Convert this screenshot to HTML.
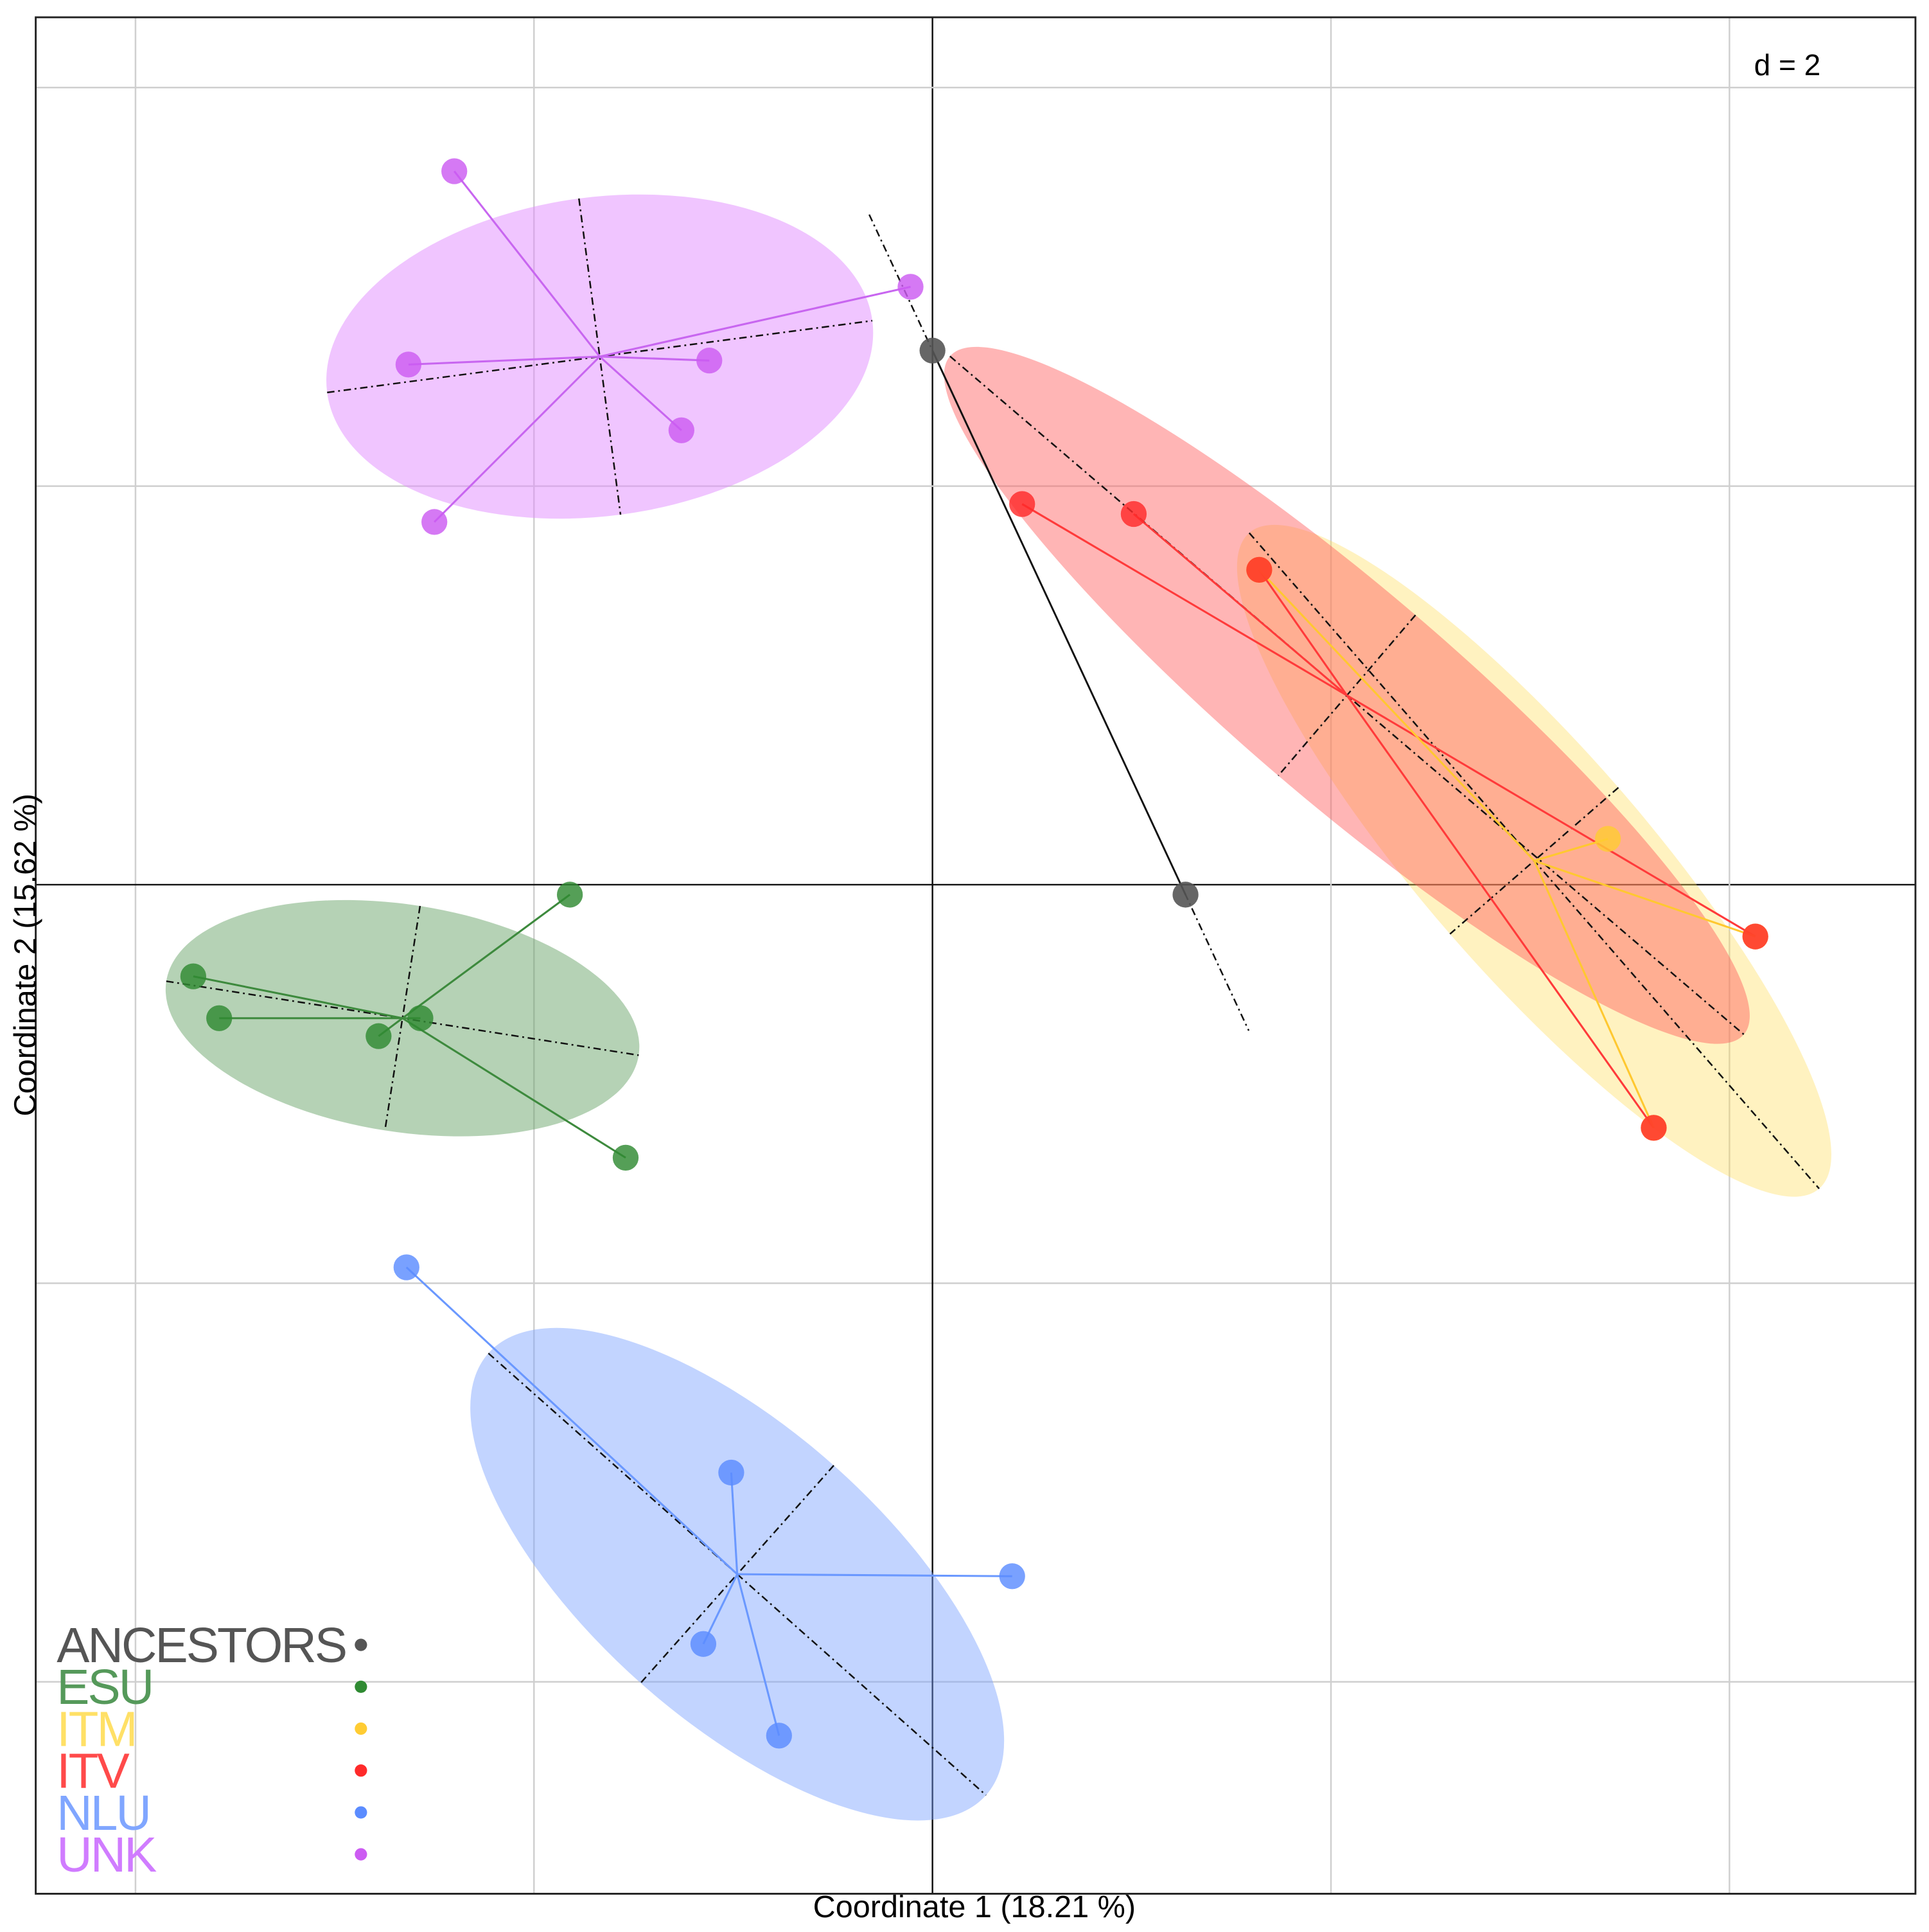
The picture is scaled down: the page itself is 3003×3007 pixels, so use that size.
<!DOCTYPE html>
<html><head><meta charset="utf-8"><title>PCoA plot</title>
<style>html,body{margin:0;padding:0;background:#fff;}svg{display:block;}</style></head>
<body>
<svg id="chart" width="3003" height="3007" viewBox="0 0 1566 1568" xmlns="http://www.w3.org/2000/svg" font-family="Liberation Sans, sans-serif">
<rect x="0" y="0" width="1566" height="1568" fill="#fff"/>
<g id="grid"></g>
<g id="ellipses"></g>
<g id="spokes"></g>
<g id="points"></g>
<rect x="29" y="14" width="1526" height="1523" fill="none" stroke="#222" stroke-width="1.5"/>
<text x="1478" y="61" font-size="24" text-anchor="end" fill="#000">d = 2</text>
<text x="791" y="1556" font-size="25" text-anchor="middle" fill="#000" textLength="262" lengthAdjust="spacingAndGlyphs">Coordinate 1 (18.21 %)</text>
<text x="0" y="0" font-size="25" text-anchor="middle" fill="#000" textLength="262" lengthAdjust="spacingAndGlyphs" transform="translate(29,775) rotate(-90)">Coordinate 2 (15.62 %)</text>
<g id="legend"></g>
</svg>
<script>
const groups = ["ANCESTORS","ESU","ITM","ITV","NLU","UNK"];
const gridTicks = [-8,-6,-4,-2,0,2,4,6,8];
const ancestorsX = [0.00, 1.27];
const ancestorsY = [2.68, -0.05];
const esuX = [-3.71,-3.58,-2.78,-2.57,-1.82,-1.54];
const esuY = [-0.46,-0.67,-0.76,-0.67,-0.05,-1.37];
const itmX = [1.64,3.39,3.62,4.13];
const itmY = [1.58,0.23,-1.22,-0.26];
const itvX = [0.45,1.01,1.64,4.13,3.62];
const itvY = [1.91,1.86,1.58,-0.26,-1.22];
const nluX = [-2.64,-1.01,-1.15,-0.77,0.40];
const nluY = [-1.92,-2.95,-3.81,-4.27,-3.47];
const unkX = [-2.40,-2.63,-1.12,-1.26,-2.50,-0.11];
const unkY = [3.58,2.61,2.63,2.28,1.82,3.00];
// ellipse stats: center x, center y, semi-axes, angle (deg, data space)
const ellCx = {UNK:-1.67, ITV:2.08, ITM:3.02, ESU:-2.66, NLU:-0.98};
const ellCy = {UNK:2.65, ITV:0.95, ITM:0.12, ESU:-0.67, NLU:-3.46};
const ellA  = {UNK:1.38, ITV:2.62, ITM:2.18, ESU:1.20, NLU:1.67};
const ellB  = {UNK:0.80, ITV:0.53, ITM:0.56, ESU:0.57, NLU:0.73};
const ellAng= {UNK:7.5, ITV:-40.5, ITM:-49, ESU:-8.9, NLU:-41.6};

const X0=757, Y0=718, S=161.75, L=29, T=14, R=1555, B=1537;
const sx = v => X0 + v*S;
const sy = v => Y0 - v*S;
const NS='http://www.w3.org/2000/svg';
function mk(tag, parent, attrs){const e=document.createElementNS(NS,tag);for(const k in attrs)e.setAttribute(k,attrs[k]);parent.appendChild(e);return e;}

const grid=document.getElementById('grid');
gridTicks.forEach(t=>{
  const x=sx(t); if(x>L && x<R){
    const l=mk('line',grid,{x1:x,y1:T,x2:x,y2:B,stroke:t===0?'#111':'#cfcfcf','stroke-width':1.3});
    
    
  }
  const y=sy(t); if(y>T && y<B){
    const l=mk('line',grid,{x1:L,y1:y,x2:R,y2:y,stroke:t===0?'#111':'#cfcfcf','stroke-width':1.3});
    
    
  }
});

const fills={UNK:'rgba(225,140,255,0.5)',ITV:'rgba(255,90,90,0.45)',ITM:'rgba(255,220,90,0.38)',ESU:'rgba(100,160,100,0.48)',NLU:'rgba(120,160,255,0.45)'};
const ptCol={ANCESTORS:'#555555',ESU:'#2f8a32',ITM:'#ffcc33',ITV:'#ff2a2a',NLU:'#5b8cff',UNK:'#cc5cf2'};
const lineCol={ANCESTORS:'#111',ESU:'#3d8a3d',ITM:'#ffc830',ITV:'#ff3a3a',NLU:'#6a98ff',UNK:'#c866f0'};
const legCol={ANCESTORS:'#555555',ESU:'#55995a',ITM:'#ffe066',ITV:'#ff4a4a',NLU:'#80a6ff',UNK:'#d07cff'};

const eg=document.getElementById('ellipses');
['ITM','ITV','UNK','ESU','NLU'].forEach(g=>{
  const cx=sx(ellCx[g]), cy=sy(ellCy[g]), a=ellA[g]*S, b=ellB[g]*S, ang=-ellAng[g];
  const e=mk('ellipse',eg,{cx:cx,cy:cy,rx:a,ry:b,fill:fills[g],transform:`rotate(${ang} ${cx} ${cy})`});
  
  
});
['ITM','ITV','UNK','ESU','NLU'].forEach(g=>{
  const cx=sx(ellCx[g]), cy=sy(ellCy[g]), a=ellA[g]*S, b=ellB[g]*S, r=-ellAng[g]*Math.PI/180;
  const c=Math.cos(r), s=Math.sin(r);
  const l1=mk('line',eg,{x1:cx-a*c,y1:cy-a*s,x2:cx+a*c,y2:cy+a*s,stroke:'#111','stroke-width':1.3,'stroke-dasharray':'6 3 1.5 3'});
  
  
  const l2=mk('line',eg,{x1:cx+b*s,y1:cy-b*c,x2:cx-b*s,y2:cy+b*c,stroke:'#111','stroke-width':1.3,'stroke-dasharray':'6 3 1.5 3'});
  
  
});

const sp=document.getElementById('spokes');
const series={ESU:[esuX,esuY],ITM:[itmX,itmY],ITV:[itvX,itvY],NLU:[nluX,nluY],UNK:[unkX,unkY]};
['ITV','ITM','UNK','ESU','NLU'].forEach(g=>{
  const [xs,ys]=series[g]; const hx=sx(ellCx[g]), hy=sy(ellCy[g]);
  xs.forEach((v,i)=>{
    const l=mk('line',sp,{x1:hx,y1:hy,x2:sx(v),y2:sy(ys[i]),stroke:lineCol[g],'stroke-width':1.6});
    
    
  });
});
{
  const x1=sx(ancestorsX[0]),y1=sy(ancestorsY[0]),x2=sx(ancestorsX[1]),y2=sy(ancestorsY[1]);
  const dx=x2-x1, dy=y2-y1;
  const ext=mk('line',sp,{x1:x1-0.25*dx,y1:y1-0.25*dy,x2:x2+0.25*dx,y2:y2+0.25*dy,stroke:'#111','stroke-width':1.3,'stroke-dasharray':'6 3 1.5 3'});
  
  
  const sl=mk('line',sp,{x1:x1,y1:y1,x2:x2,y2:y2,stroke:'#111','stroke-width':1.5});
  
  
}

const pg=document.getElementById('points');
const allSeries={ANCESTORS:[ancestorsX,ancestorsY],...series};
['ITM','ITV','UNK','ESU','NLU','ANCESTORS'].forEach(g=>{
  const [xs,ys]=allSeries[g];
  xs.forEach((v,i)=>{
    const c=mk('circle',pg,{cx:sx(v),cy:sy(ys[i]),r:10.5,fill:ptCol[g],'fill-opacity':g==='ANCESTORS'?0.9:0.82});
    
    
  });
});

const lg=document.getElementById('legend');
groups.forEach((g,i)=>{
  const y=1349+i*34;
  const t=mk('text',lg,{x:46,y:y,'font-size':40,fill:legCol[g],'letter-spacing':'-1.5'});
  t.textContent=g;
  
  
  const d=mk('circle',lg,{cx:293,cy:y-14,r:5,fill:ptCol[g]});
  
  
});
</script>
</body></html>
